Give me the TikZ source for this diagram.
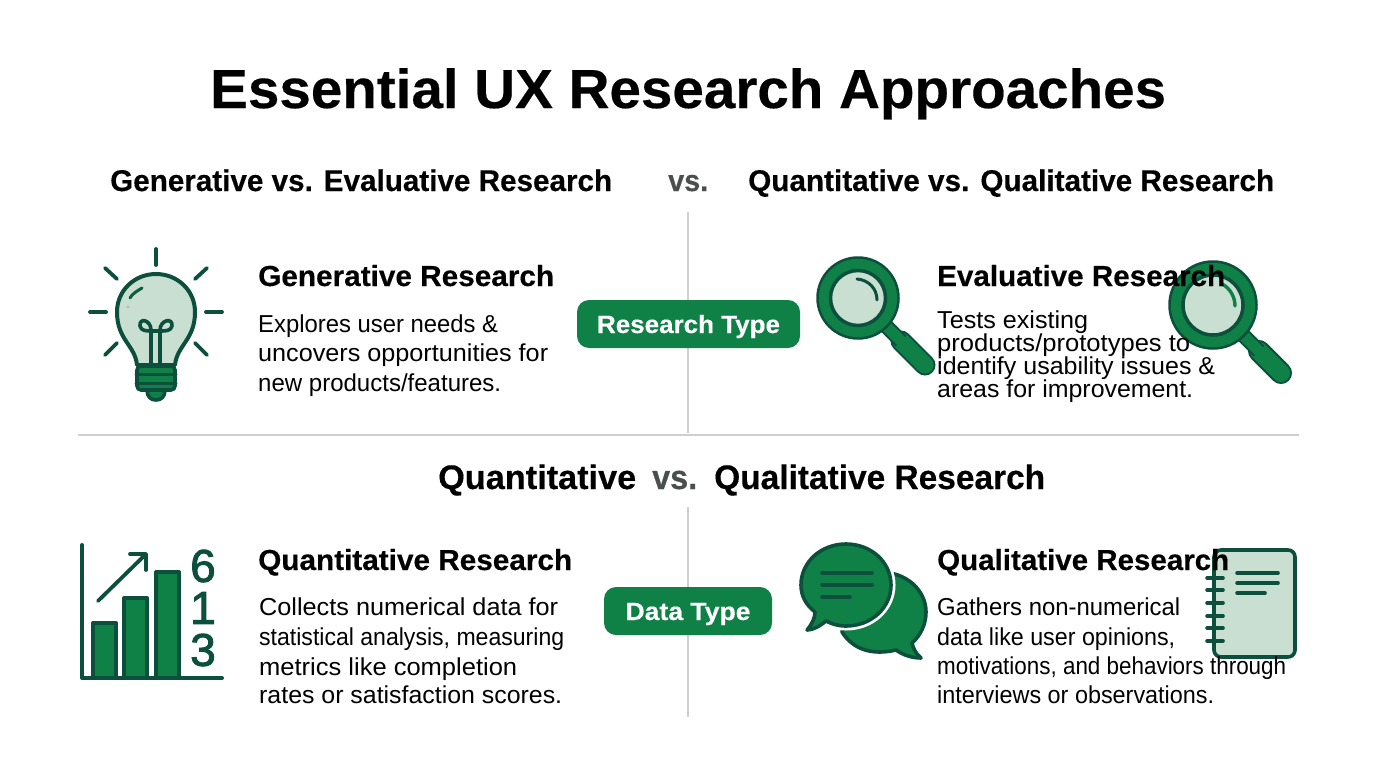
\documentclass[tikz,border=0pt]{standalone}
\usepackage{graphicx}
\usepackage{fontspec}
\setmainfont[BoldFeatures={FakeBold=0.35}]{Liberation Sans}
\newfontfamily\digitfont[FakeBold=2]{Liberation Sans}
\definecolor{dk}{HTML}{0B4F3C}
\definecolor{gr}{HTML}{0F8146}
\definecolor{lt}{HTML}{C9DFD1}
\definecolor{rule}{HTML}{CFCFCF}
\definecolor{vsg}{HTML}{4A4F4D}
\newcommand\fitw[2]{\setbox0\hbox{#2}\pgfmathsetmacro\fitr{#1/(\the\wd0)}\scalebox{\fitr}[1]{\box0}}
\tikzset{
 txt/.style={inner sep=0pt,anchor=base west,text=black},
 maintitle/.style={txt,font=\fontsize{55}{55}\selectfont\bfseries},
 head/.style={txt,font=\fontsize{30}{30}\selectfont\bfseries},
 headb/.style={txt,font=\fontsize{34}{34}\selectfont\bfseries},
 sub/.style={txt,font=\fontsize{29}{29}\selectfont\bfseries},
 body/.style={txt,font=\fontsize{24.5}{24.5}\selectfont},
 pill/.style={fill=gr,rounded corners=12pt,inner sep=0pt,text=white,font=\fontsize{25}{25}\selectfont\bfseries},
 digit/.style={inner sep=0pt,text=dk,font=\fontsize{46}{46}\digitfont},
 divider/.style={draw=rule,line width=1.4pt},
 ic/.style={draw=dk,line width=3.6pt,line join=round,line cap=round},
 ray/.style={draw=dk,line width=3.8pt,line cap=round},
}
\begin{document}
\begin{tikzpicture}[x=1pt,y=-1pt]
\fill[white] (0,0) rectangle (1376,768);
\useasboundingbox (0,0) rectangle (1376,768);
% dividers
\coordinate (hl) at (78,435); \coordinate (hr) at (1299,435);
\coordinate (v1t) at (688,212); \coordinate (v1b) at (688,433);
\coordinate (v2t) at (688,507); \coordinate (v2b) at (688,717);
\draw[divider] (hl) -- (hr);
\draw[divider] (v1t) -- (v1b);
\draw[divider] (v2t) -- (v2b);
% bulb
\foreach \a/\b/\c/\d in {156/249/156/265, 105/268/117/279, 207/268/195/279, 90/312/106/312, 206/312/222/312, 105/355/117/343, 207/355/195/343}
  \draw[ray] (\a,\b) -- (\c,\d);
\draw[ic,line width=4pt,fill=lt] (137,365) .. controls (135,345) and (117,340) .. (117,312) .. controls (117,290) and (135,274) .. (156,274) .. controls (177,274) and (195,290) .. (195,312) .. controls (195,340) and (177,345) .. (175,365) -- cycle;
\draw[ic] (151,365) -- (151,330) .. controls (151,320) and (139,317) .. (140,326) .. controls (141,331) and (147,331) .. (151,331) -- (161,331) .. controls (165,331) and (171,331) .. (172,326) .. controls (173,317) and (160,320) .. (160,330) -- (160,365);
\draw[draw=dk!70!gr,line width=3pt,line cap=round] (130,298) .. controls (132,294) and (137,291) .. (142,288);
\fill[rule!80!gray] (128,307) circle (1.8pt);
\draw[ic,fill=gr] (147,390) .. controls (147,397) and (151,400) .. (156,400) .. controls (161,400) and (165,397) .. (165,390) -- cycle;
\draw[ic,fill=gr,rounded corners=4pt] (137,366) rectangle (175,390);
\draw[ic,line width=3pt] (136,374) -- (176,374);
\draw[ic,line width=3pt] (136,383) -- (176,383);
% left magnifier
\draw[dk,line width=21pt,line cap=round] (901,341) -- (925,365);
\draw[gr,line width=17pt,line cap=round] (901,341) -- (925,365);
\draw[dk,line width=15pt] (884,324) -- (901,341);
\draw[gr,line width=11pt] (884,324) -- (903,343);
\draw[draw=dk,line width=2.5pt,fill=gr] (858,298) circle (40.5pt);
\draw[draw=dk,line width=3.5pt,fill=lt] (858,298) circle (27.5pt);
\draw[draw=dk,line width=3pt,line cap=round] (857,279) .. controls (869,280) and (877,289) .. (877,300);
% right magnifier
\draw[dk,line width=22pt,line cap=round] (1259,351) -- (1281,373);
\draw[gr,line width=18pt,line cap=round] (1259,351) -- (1281,373);
\draw[dk,line width=15pt] (1243,335) -- (1259,351);
\draw[gr,line width=11pt] (1243,335) -- (1261,353);
\draw[draw=dk,line width=2.5pt,fill=gr] (1213,305) circle (43.5pt);
\draw[draw=dk,line width=3.5pt,fill=lt] (1213,305) circle (30pt);
\draw[draw=gr,line width=3.4pt,line cap=round] (1222,284) .. controls (1230,288) and (1235,297) .. (1235,306);
% chart
\foreach \l/\r/\t in {93/116/623, 124/147/598, 156/179/572}
  \draw[draw=dk,line width=4pt,fill=gr,line join=round] (\l,678) -- (\l,\t) -- (\r,\t) -- (\r,678);
\draw[ic,line width=4pt] (82,545) -- (82,678) -- (222,678);
\draw[ic,line width=3.8pt] (98,601) -- (146,554);
\draw[ic,line width=3.8pt] (130,554) -- (146,554) -- (146,570);
\node[digit] (d6) at (203,566) {6};
\node[digit] (d1) at (203,608) {1};
\node[digit] (d3) at (203,650) {3};
% speech bubbles
\draw[ic,fill=gr] (880,572) .. controls (906,572) and (926,590) .. (926,612) .. controls (926,625) and (920,636) .. (912,643) .. controls (913,648) and (916,654) .. (921,658) .. controls (912,658) and (903,655) .. (896,650) .. controls (870,656) and (852,648) .. (842,632) -- (850,590) -- cycle;
\draw[white,line width=9pt,line join=round] (846,544) .. controls (871,544) and (891,562) .. (891,585) .. controls (891,608) and (871,626) .. (846,626) .. controls (838,626) and (832,624) .. (826,621);
\draw[ic,fill=gr] (846,544) .. controls (871,544) and (891,562) .. (891,585) .. controls (891,608) and (871,626) .. (846,626) .. controls (838,626) and (832,624) .. (826,621) .. controls (820,626) and (813,630) .. (807,630) .. controls (812,624) and (815,618) .. (815,612) .. controls (806,605) and (801,596) .. (801,585) .. controls (801,562) and (821,544) .. (846,544) -- cycle;
\draw[ic] (822,573) -- (872,573);
\draw[ic] (822,585) -- (872,585);
\draw[ic] (822,597) -- (850,597);
% notebook
\draw[ic,fill=lt,rounded corners=7pt] (1214,550) rectangle (1295,657);
\foreach \y in {578,590,603,616,628,641} \draw[ic] (1207,\y) -- (1223,\y);
\draw[ic] (1237,573) -- (1278,573);
\draw[ic] (1237,583) -- (1278,583);
\draw[ic] (1237,593) -- (1265,593);
% pills
\node[pill,minimum width=223pt,minimum height=48pt] (p1) at (688.5,324) {\raisebox{-9pt}[0pt][0pt]{\fitw{183}{Research Type}}};
\node[pill,minimum width=168pt,minimum height=48pt] (p2) at (688,611) {\raisebox{-9pt}[0pt][0pt]{\fitw{125}{Data Type}}};
% texts
\node[maintitle] (title) at (210,108) {\fitw{956}{Essential UX Research Approaches}};
\node[head] (h1) at (110,191) {\fitw{502}{Generative vs. Evaluative Research}};
\node[head,text=vsg] (h2) at (668,191) {\fitw{40}{vs.}};
\node[head] (h3) at (748,191) {\fitw{526}{Quantitative vs. Qualitative Research}};
\node[headb] (h4) at (438,489) {\fitw{198}{Quantitative}};
\node[headb,text=vsg] (h5) at (652,489) {\fitw{45}{vs.}};
\node[headb] (h6) at (714,489) {\fitw{331}{Qualitative Research}};
\node[sub] (s1) at (258,286) {\fitw{296}{Generative Research}};
\node[sub] (s2) at (937,286) {\fitw{288}{Evaluative Research}};
\node[sub] (s3) at (258,570) {\fitw{314}{Quantitative Research}};
\node[sub] (s4) at (937,570) {\fitw{292}{Qualitative Research}};
\node[body] (a1) at (258,332) {\fitw{240}{Explores user needs \&}};
\node[body] (a2) at (258,361) {\fitw{290}{uncovers opportunities for}};
\node[body] (a3) at (258,391) {\fitw{243}{new products/features.}};
\node[body] (b1) at (937,328) {\fitw{151}{Tests existing}};
\node[body] (b2) at (937,351) {\fitw{253}{products/prototypes to}};
\node[body] (b3) at (937,374) {\fitw{278}{identify usability issues \&}};
\node[body] (b4) at (937,397) {\fitw{256}{areas for improvement.}};
\node[body] (c1) at (259,615) {\fitw{299}{Collects numerical data for}};
\node[body] (c2) at (259,645) {\fitw{305}{statistical analysis, measuring}};
\node[body] (c3) at (259,675) {\fitw{258}{metrics like completion}};
\node[body] (c4) at (259,703) {\fitw{303}{rates or satisfaction scores.}};
\node[body] (e1) at (937,615) {\fitw{243}{Gathers non-numerical}};
\node[body] (e2) at (937,645) {\fitw{238}{data like user opinions,}};
\node[body] (e3) at (937,674) {\fitw{349}{motivations, and behaviors through}};
\node[body] (e4) at (937,703) {\fitw{277}{interviews or observations.}};
\end{tikzpicture}
\end{document}
